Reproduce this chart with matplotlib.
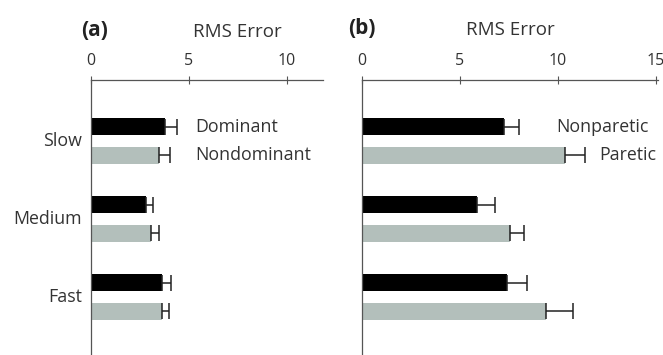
import numpy as np
import matplotlib.pyplot as plt

plt.rcParams['font.family'] = ['Open Sans', 'DejaVu Sans']

velocidades = ["Slow", "Medium", "Fast"]

# panel (a): sujetos sanos
dominant = [3.78, 2.8, 3.6]
dominant_err = [0.6, 0.35, 0.5]
nondominant = [3.47, 3.08, 3.62]
nondominant_err = [0.56, 0.37, 0.37]

# panel (b): pacientes
nonparetic = [7.24, 5.87, 7.38]
nonparetic_err = [0.77, 0.9, 1.05]
paretic = [10.36, 7.53, 9.4]
paretic_err = [1.0, 0.75, 1.37]

ticks_a = [0, 5, 10]
ticks_b = [0, 5, 10, 15]

COLOR_TEXTO = "#333333"
COLOR_GRIS = "#b3bfbb"
TAM_TEXTO = 12.8


def graficar_panel(ax, serie1, err1, serie2, err2, xmax, ticks, etiquetas):
    y = np.arange(len(velocidades))
    off = 0.183
    alto = 0.22
    n = len(velocidades)
    estilo_err = dict(ecolor="#222222", elinewidth=1.1, capsize=5.5, capthick=1.1)
    ax.barh(y - off, serie1, height=alto, color="black",
            xerr=[[0] * n, err1], error_kw=estilo_err)
    ax.barh(y + off, serie2, height=alto, color=COLOR_GRIS,
            xerr=[[0] * n, err2], error_kw=estilo_err)
    ax.set_xlim(0, xmax)
    ax.set_ylim(2.74, -0.78)
    ax.xaxis.tick_top()
    ax.set_xticks(ticks)
    ax.tick_params(axis="x", direction="inout", length=6, width=0.8, colors="#555555",
                   labelcolor=COLOR_TEXTO, labelsize=11.5, pad=5)
    ax.spines["right"].set_visible(False)
    ax.spines["bottom"].set_visible(False)
    for s in ["top", "left"]:
        ax.spines[s].set_color("#555555")
        ax.spines[s].set_linewidth(0.9)
    ax.set_yticks([])
    ax.text(etiquetas[0][0], -off, etiquetas[0][1], va="center", ha="left",
            fontsize=TAM_TEXTO, color=COLOR_TEXTO)
    ax.text(etiquetas[1][0], off, etiquetas[1][1], va="center", ha="left",
            fontsize=TAM_TEXTO, color=COLOR_TEXTO)


fig = plt.figure(figsize=(6.63, 3.55), dpi=100)
ax_a = fig.add_axes([0.1373, 0.0, 0.35, 0.7746])
ax_b = fig.add_axes([0.546, 0.0, 0.4465, 0.7746])

graficar_panel(ax_a, dominant, dominant_err, nondominant, nondominant_err, 11.84, ticks_a,
               [(5.3, "Dominant"), (5.3, "Nondominant")])
graficar_panel(ax_b, nonparetic, nonparetic_err, paretic, paretic_err, 15.1, ticks_b,
               [(9.9, "Nonparetic"), (12.1, "Paretic")])

for i, v in enumerate(velocidades):
    ax_a.text(-0.45, i, v, ha="right", va="center", fontsize=TAM_TEXTO, color=COLOR_TEXTO)

fig.text(237 / 663, 1 - 32 / 355, "RMS Error", ha="center", va="center", fontsize=13.5, color=COLOR_TEXTO)
fig.text(510 / 663, 1 - 30 / 355, "RMS Error", ha="center", va="center", fontsize=13.5, color=COLOR_TEXTO)
fig.text(95 / 663, 1 - 30 / 355, "(a)", ha="center", va="center", fontsize=15, fontweight="bold", color="#222222")
fig.text(362 / 663, 1 - 28 / 355, "(b)", ha="center", va="center", fontsize=15, fontweight="bold", color="#222222")

fig.savefig("out.png", dpi=100)
